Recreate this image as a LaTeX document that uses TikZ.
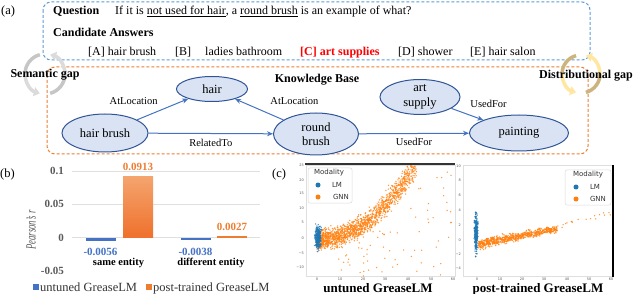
\documentclass[tikz,border=0pt]{standalone}
\usepackage{fontspec}
\setmainfont{Liberation Serif}
\newfontfamily\plotfont{DejaVu Sans}
\usepackage{tikz}
\usetikzlibrary{arrows.meta,positioning,calc,shapes.geometric}
\definecolor{qblue}{HTML}{5B9BD5}
\definecolor{kborange}{HTML}{ED7D31}
\definecolor{conceptfill}{HTML}{DAE3F3}
\definecolor{conceptline}{HTML}{2F5597}
\definecolor{relblue}{HTML}{4472C4}
\definecolor{barblue}{HTML}{4472C4}
\definecolor{barorange}{HTML}{ED7D31}
\definecolor{barlight}{HTML}{F4A46E}
\definecolor{lmblue}{HTML}{1F77B4}
\definecolor{gnnorange}{HTML}{FF7F0E}
\definecolor{answerred}{HTML}{FF0000}
\definecolor{distgold}{HTML}{CDB47E}
\definecolor{distyellow}{HTML}{FFE7A3}
\tikzset{
  qframe/.style={draw=qblue, line width=1pt, dash pattern=on 3pt off 2pt, rounded corners=8pt},
  kbframe/.style={draw=kborange, line width=1pt, dash pattern=on 3pt off 2pt, rounded corners=8pt},
  note/.style={inner sep=0pt, anchor=base west, font=\fontsize{12}{14}\selectfont},
  head/.style={inner sep=0pt, anchor=base west, font=\fontsize{12}{14}\selectfont\bfseries},
  tag/.style={inner sep=0pt, anchor=base west, font=\fontsize{12.5}{14}\selectfont},
  concept/.style={ellipse, draw=conceptline, fill=conceptfill, line width=1pt, inner sep=0pt, align=center, font=\fontsize{12.5}{14.5}\selectfont},
  relation/.style={-{Stealth[length=6pt, width=5pt]}, draw=relblue, line width=1pt},
  rel/.style={font=\fontsize{10.5}{12}\selectfont, inner sep=1pt},
  gaparc/.style={line width=3.5pt},
  gaptip/.style={-{Triangle[width=9pt, length=6pt]}},
  gridline/.style={draw=gray!25, line width=0.8pt},
  barytick/.style={anchor=east, inner sep=0pt, font=\fontsize{11}{12}\selectfont\bfseries, text=gray!70!black},
  vallab/.style={anchor=base, inner sep=0pt, font=\fontsize{11}{12}\selectfont\bfseries},
  catlab/.style={anchor=base, inner sep=0pt, font=\fontsize{10.5}{12}\selectfont\bfseries},
  barleg/.style={anchor=base west, inner sep=0pt, font=\fontsize{12.5}{14}\selectfont, text=black!80},
  plotframe/.style={draw=gray!25, line width=0.6pt},
  axtick/.style={inner sep=0pt, font=\plotfont\fontsize{3.5}{4}\selectfont, text=gray!70!black},
  legbox/.style={draw=gray!30, fill=white, rounded corners=2pt, line width=0.5pt},
  legtxt/.style={inner sep=0pt, font=\plotfont\fontsize{7}{8}\selectfont, text=black!80},
  lmdot/.style={fill=lmblue, opacity=0.8},
  gnndot/.style={fill=gnnorange, opacity=0.8},
  plottitle/.style={anchor=base, inner sep=0pt, font=\fontsize{13}{14}\selectfont\bfseries}
}
\begin{document}
\begin{tikzpicture}[x=1pt, y=-1pt]
  \useasboundingbox (0,0) rectangle (640,294);

  % (a) question and knowledge base
  \node[tag] (taga) at (1,15) {(a)};
  \draw[qframe] (43,2) rectangle (590,60);
  \draw[kbframe] (47,67) rectangle (588,154);
  \node[head] (qhead) at (53,15) {Question};
  \node[note] (qtext) at (115,15) {If it is \underline{not used for hair}, a \underline{round brush} is an example of what?};
  \node[head] (cahead) at (53,37) {Candidate Answers};
  \node[note] (ansa) at (88,56) {[A] hair brush};
  \node[note] (ansb) at (175,56) {[B]};
  \node[note] (ansbt) at (205,56) {ladies bathroom};
  \node[head, text=answerred] (ansc) at (300,56) {[C] art supplies};
  \node[note] (ansd) at (398,56) {[D] shower};
  \node[note] (anse) at (470,56) {[E] hair salon};

  % gap arrows
  \coordinate (semc) at (45,74);
  \draw[gaparc, draw=gray!45] (semc) ++(-105:20) arc[start angle=-105, end angle=-180, radius=20];
  \draw[gaparc, gaptip, draw=gray!28] (semc) ++(-180:20) arc[start angle=-180, end angle=-255, radius=20];
  \draw[gaparc, draw=gray!45] (semc) ++(75:20) arc[start angle=75, end angle=0, radius=20];
  \draw[gaparc, gaptip, draw=gray!28] (semc) ++(0:20) arc[start angle=0, end angle=-75, radius=20];
  \node[head, anchor=base] (semgap) at (45,78) {Semantic gap};
  \coordinate (distc) at (581,74);
  \draw[gaparc, draw=distgold] (distc) ++(-105:19) arc[start angle=-105, end angle=-180, radius=19];
  \draw[gaparc, gaptip, draw=distyellow] (distc) ++(-180:19) arc[start angle=-180, end angle=-255, radius=19];
  \draw[gaparc, draw=distgold] (distc) ++(75:19) arc[start angle=75, end angle=0, radius=19];
  \draw[gaparc, gaptip, draw=distyellow] (distc) ++(0:19) arc[start angle=0, end angle=-75, radius=19];
  \node[head, anchor=base] (distgap) at (586,79) {Distributional gap};

  % knowledge base
  \node[head, anchor=base] (kbtitle) at (317,83) {Knowledge Base};
  \node[concept, minimum width=71pt, minimum height=25pt] (hair) at (212,89) {hair};
  \node[concept, minimum width=86pt, minimum height=38pt] (hb) at (105,133) {hair brush};
  \node[concept, minimum width=85pt, minimum height=42pt] (rb) at (316,134) {round\\brush};
  \node[concept, minimum width=80pt, minimum height=35pt] (as) at (420,97) {art\\supply};
  \node[concept, minimum width=99pt, minimum height=36pt] (paint) at (519,133) {painting};
  \draw[relation] (hb) -- node[rel, pos=0.43, above left=5pt and 0pt] {AtLocation} (hair);
  \draw[relation] (hb) -- node[rel, below=4pt] {RelatedTo} (rb);
  \draw[relation] (rb) -- node[rel, pos=0.3, above right=8pt and 0pt] {AtLocation} (hair);
  \draw[relation] (rb) -- node[rel, below=3pt] {UsedFor} (paint);
  \draw[relation] (as) -- node[rel, pos=0.55, above right=6pt and 0pt] {UsedFor} (paint);

  % (b) bar chart
  \node[tag] (tagb) at (0,178) {(b)};
  \foreach \yv in {171,204.25,237.5} \draw[gridline] (72,\yv) -- (260,\yv);
  \foreach \yv/\ylab in {171/0.1, 204.25/0.05, 237.5/0, 270.75/-0.05}
    \node[barytick] at (64,\yv) {\ylab};
  \node[rotate=90, text=gray!70!black, font=\fontsize{14}{14}\selectfont\itshape] (ylab) at (31,230) {\scalebox{0.62}[1]{Pearson's r}};
  \fill[barblue] (86,237.5) rectangle (116,241.2);
  \shade[top color=barlight, bottom color=barorange!90!red] (123,176.8) rectangle (153,237.5);
  \fill[barblue] (181,237.5) rectangle (211,240);
  \fill[barorange] (217,235.7) rectangle (247,237.5);
  \node[vallab, text=barorange] (v1) at (138,171) {0.0913};
  \node[vallab, text=barorange] (v2) at (232,230) {0.0027};
  \node[vallab, text=barblue] (v3) at (100.5,255) {-0.0056};
  \node[vallab, text=barblue] (v4) at (195.5,255) {-0.0038};
  \node[catlab] (same) at (118.5,265) {same entity};
  \node[catlab] (diff) at (211,265) {different entity};
  \fill[barblue] (33,283.5) rectangle (39,290);
  \node[barleg] (legu) at (40,291) {untuned GreaseLM};
  \fill[barorange] (146,283.5) rectangle (152,290);
  \node[barleg] (legp) at (153,291) {post-trained GreaseLM};

  % (c) scatter plots
  \node[tag] (tagc) at (272,178) {(c)};
  \pgfmathsetseed{7}
  \draw[plotframe] (306,165) rectangle (455,276);
  \draw[plotframe] (463,165) rectangle (613,276);
  \begin{scope}
    \clip (306,165) rectangle (455,276);
    \foreach \i in {1,...,1500}{
      \pgfmathsetmacro\tp{pow(rnd,1.3)}
      \pgfmathsetmacro\px{318+97*\tp+4*(rnd-0.5)}
      \pgfmathsetmacro\py{240-73*\tp*\tp+(14+4*\tp)*(rnd+rnd+rnd-1.5)/1.5}
      \fill[gnndot] (\px,\py) circle (0.75pt);
    }
    \foreach \i in {1,...,90}{
      \pgfmathsetmacro\px{335+118*rnd}
      \pgfmathsetmacro\tp{min((\px-318)/97,1)}
      \pgfmathsetmacro\py{240-73*\tp*\tp+(278-240+73*\tp*\tp)*pow(rnd,1.4)}
      \fill[gnndot] (\px,\py) circle (0.75pt);
    }
    \foreach \i in {1,...,300}{
      \pgfmathsetmacro\px{318+4.5*(rnd+rnd+rnd-1.5)/1.5}
      \pgfmathsetmacro\py{238+16*(rnd+rnd+rnd-1.5)/1.5}
      \fill[lmdot] (\px,\py) circle (0.75pt);
    }
  \end{scope}
  \begin{scope}
    \clip (463,165) rectangle (613,276);
    \foreach \i in {1,...,300}{
      \pgfmathsetmacro\px{476+2.5*(rnd+rnd+rnd-1.5)/1.5}
      \pgfmathsetmacro\py{234+26*(rnd+rnd+rnd-1.5)/1.5}
      \fill[lmdot] (\px,\py) circle (0.75pt);
    }
    \foreach \i in {1,...,750}{
      \pgfmathsetmacro\tp{pow(rnd,1.2)}
      \pgfmathsetmacro\px{479+78*\tp+2*(rnd-0.5)}
      \pgfmathsetmacro\py{244-15*\tp+(7-2.5*\tp)*(rnd+rnd+rnd-1.5)/1.5}
      \fill[gnndot] (\px,\py) circle (0.75pt);
    }
    \foreach \i in {1,...,25}{
      \pgfmathsetmacro\px{540+72*rnd}
      \pgfmathsetmacro\py{232-20*(\px-540)/72+6*(rnd-0.5)}
      \fill[gnndot] (\px,\py) circle (0.75pt);
    }
  \end{scope}
  \draw[gray!40!black, line width=2pt] (305,164) -- (455,164);
  \draw[black, line width=1.3pt] (613,165) -- (613,277);
  % axis ticks
  \foreach \yv/\ylab in {165/25,180/20,193/15,208/10,222/5,238/0,253/−5,267/−10}
    \node[axtick, anchor=east] at (304,\yv) {\ylab};
  \foreach \yv/\ylab in {166/10,180/8,195/6,210/4,225/2,240/0,254/−2,268/−4}
    \node[axtick, anchor=east] at (461,\yv) {\ylab};
  \foreach \xv/\xlab in {317/0,340/10,363/20,385/30,408/40,431/50,453/60}
    \node[axtick] at (\xv,279) {\xlab};
  \foreach \xv/\xlab in {477/0,500/10,522/20,544/30,567/40,589/50,611/60}
    \node[axtick] at (\xv,279) {\xlab};
  % legends
  \draw[legbox] (308,168) rectangle (352,203);
  \node[legtxt] (lmod) at (329,173) {Modality};
  \fill[lmblue] (318,185) circle (2.5pt);
  \node[legtxt] (llm) at (337,185) {LM};
  \fill[gnnorange] (318,197) circle (2.5pt);
  \node[legtxt] (lgnn) at (341,197) {GNN};
  \draw[legbox] (565,170) rectangle (611,205);
  \node[legtxt] (rmod) at (588,175) {Modality};
  \fill[lmblue] (576,187) circle (2.5pt);
  \node[legtxt] (rlm) at (595,187) {LM};
  \fill[gnnorange] (576,199) circle (2.5pt);
  \node[legtxt] (rgnn) at (598,199) {GNN};
  \node[plottitle] (tleft) at (378,292) {untuned GreaseLM};
  \node[plottitle] (tright) at (538,292) {post-trained GreaseLM};
\end{tikzpicture}
\end{document}
